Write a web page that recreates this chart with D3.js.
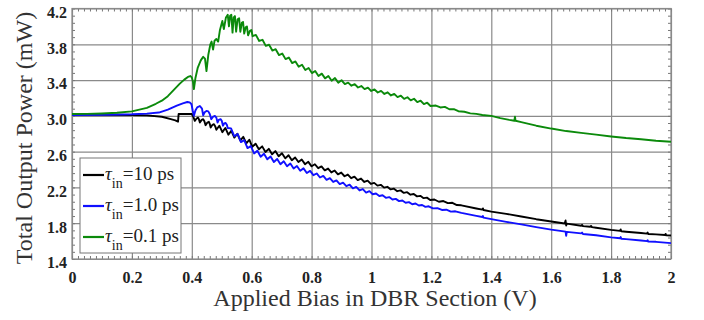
<!DOCTYPE html>
<html>
<head>
<meta charset="utf-8">
<script src="https://cdn.jsdelivr.net/npm/d3@7/dist/d3.min.js"></script>
<style>
  body { margin: 0; background: #fff; }
  svg text { font-family: "Liberation Serif", "Times New Roman", serif; }
</style>
</head>
<body>
<div id="chart"></div>
<script>
// tick values and labels
const xTicks = [0, 0.2, 0.4, 0.6, 0.8, 1, 1.2, 1.4, 1.6, 1.8, 2];
const xTickLabels = ["0", "0.2", "0.4", "0.6", "0.8", "1", "1.2", "1.4", "1.6", "1.8", "2"];
const yTicks = [1.4, 1.8, 2.2, 2.6, 3.0, 3.4, 3.8, 4.2];
const yTickLabels = ["1.4", "1.8", "2.2", "2.6", "3.0", "3.4", "3.8", "4.2"];

const seriesNames = ["10 ps", "1.0 ps", "0.1 ps"];
const seriesColors = ["#000000", "#1010ff", "#0b8a0b"];

// tau_in = 10 ps (black)
const black = [
  [0,3.012],[0.1,3.012],[0.2,3.01],[0.25,3.005],[0.3,2.99],[0.33,2.963],[0.345,2.95],[0.354,2.935],
  [0.356,3.02],[0.37,3.02],[0.385,3.022],[0.4,3.02],[0.405,2.99],[0.41,2.944],[0.416,2.97],[0.421,2.98],
  [0.424,2.96],[0.427,2.926],[0.433,2.955],[0.438,2.963],[0.442,2.94],[0.446,2.896],[0.452,2.925],
  [0.457,2.933],[0.46,2.91],[0.463,2.87],[0.469,2.9],[0.474,2.907],[0.478,2.885],[0.482,2.844],
  [0.492,2.89],[0.502,2.818],[0.512,2.865],[0.522,2.79],[0.532,2.833],[0.542,2.757],[0.552,2.80],
  [0.562,2.727],[0.572,2.765],[0.582,2.692],[0.592,2.733],[0.602,2.654],[0.613,2.689],[0.624,2.626],
  [0.635,2.659],[0.646,2.596],[0.657,2.631],[0.668,2.571],[0.679,2.606],[0.69,2.548],[0.701,2.582],
  [0.712,2.525],[0.723,2.56],[0.734,2.503],[0.745,2.535],[0.756,2.484],[0.767,2.512],[0.778,2.46],
  [0.789,2.486],[0.8,2.436],[0.811,2.459],[0.822,2.415],[0.833,2.435],[0.844,2.391],[0.855,2.411],
  [0.866,2.368],[0.877,2.389],[0.888,2.346],[0.899,2.366],[0.91,2.325],[0.921,2.344],[0.932,2.303],
  [0.943,2.321],[0.954,2.282],[0.965,2.299],[0.976,2.261],[0.987,2.276],[0.998,2.239],[1.009,2.251],
  [1.02,2.22],[1.031,2.229],[1.042,2.198],[1.053,2.207],[1.064,2.178],[1.075,2.186],[1.086,2.158],
  [1.097,2.167],[1.108,2.139],[1.119,2.147],[1.13,2.119],[1.141,2.127],[1.152,2.10],[1.163,2.106],
  [1.174,2.08],[1.185,2.086],[1.196,2.06],[1.21,2.065],[1.225,2.04],[1.24,2.048],[1.255,2.025],
  [1.27,2.028],[1.285,2.003],[1.3,2.0],[1.35,1.965],[1.37,1.952],[1.372,1.965],[1.374,1.948],
  [1.4,1.93],[1.45,1.905],[1.5,1.875],[1.55,1.845],[1.6,1.819],[1.645,1.797],[1.648,1.83],
  [1.65,1.775],[1.652,1.795],[1.7,1.772],[1.703,1.782],[1.706,1.768],[1.73,1.76],[1.733,1.77],
  [1.736,1.756],[1.75,1.75],[1.8,1.726],[1.83,1.714],[1.832,1.73],[1.834,1.71],[1.85,1.705],
  [1.9,1.69],[1.92,1.684],[1.922,1.695],[1.924,1.68],[1.95,1.675],[1.98,1.668],[1.982,1.68],
  [1.984,1.664],[2.0,1.662]
];

// tau_in = 1.0 ps (blue)
const blue = [
  [0,3.01],[0.1,3.012],[0.2,3.018],[0.25,3.025],[0.29,3.037],[0.32,3.07],[0.35,3.115],[0.37,3.14],
  [0.385,3.155],[0.393,3.15],[0.399,3.13],[0.403,3.06],[0.407,3.0],[0.412,3.06],[0.418,3.095],
  [0.427,3.11],[0.434,3.08],[0.438,3.007],[0.443,3.04],[0.449,3.055],[0.455,3.05],[0.46,3.02],
  [0.465,2.963],[0.471,2.99],[0.477,3.0],[0.482,2.98],[0.486,2.926],[0.49,2.955],[0.496,2.963],
  [0.5,2.945],[0.504,2.89],[0.508,2.915],[0.513,2.92],[0.517,2.9],[0.52,2.865],
  [0.531,2.86],[0.542,2.772],[0.553,2.798],[0.564,2.707],[0.575,2.728],[0.586,2.64],[0.597,2.662],
  [0.608,2.58],[0.619,2.61],[0.63,2.543],[0.641,2.577],[0.652,2.514],[0.663,2.546],[0.674,2.485],
  [0.685,2.518],[0.696,2.46],[0.707,2.492],[0.718,2.436],[0.729,2.467],[0.74,2.412],[0.751,2.439],
  [0.762,2.386],[0.773,2.413],[0.784,2.361],[0.795,2.385],[0.806,2.337],[0.817,2.356],[0.828,2.311],
  [0.839,2.329],[0.85,2.285],[0.861,2.303],[0.872,2.261],[0.883,2.279],[0.894,2.237],[0.905,2.254],
  [0.916,2.214],[0.927,2.23],[0.938,2.19],[0.949,2.206],[0.96,2.166],[0.971,2.182],[0.982,2.143],
  [0.993,2.159],[1.004,2.124],[1.015,2.132],[1.026,2.104],[1.037,2.112],[1.048,2.084],[1.059,2.092],
  [1.07,2.065],[1.081,2.072],[1.092,2.047],[1.103,2.054],[1.114,2.029],[1.125,2.036],[1.136,2.012],
  [1.147,2.02],[1.158,1.998],[1.169,2.004],[1.18,1.983],[1.191,1.989],[1.205,1.966],[1.22,1.969],
  [1.235,1.948],[1.25,1.951],[1.265,1.93],[1.28,1.933],[1.3,1.915],[1.35,1.882],[1.37,1.87],
  [1.372,1.88],[1.374,1.862],[1.4,1.845],[1.45,1.815],[1.5,1.787],[1.55,1.757],[1.6,1.728],
  [1.648,1.706],[1.65,1.66],[1.652,1.703],[1.7,1.686],[1.703,1.695],[1.706,1.68],[1.75,1.666],
  [1.8,1.642],[1.83,1.632],[1.832,1.645],[1.834,1.626],[1.85,1.622],[1.9,1.606],[1.92,1.60],
  [1.922,1.61],[1.924,1.595],[1.95,1.592],[2.0,1.577]
];

// tau_in = 0.1 ps (green)
const green = [
  [0,3.02],[0.05,3.022],[0.1,3.027],[0.15,3.035],[0.2,3.05],[0.25,3.09],[0.28,3.135],[0.3,3.17],
  [0.32,3.22],[0.34,3.29],[0.36,3.36],[0.375,3.405],[0.387,3.435],[0.395,3.445],[0.4,3.43],
  [0.404,3.38],[0.407,3.30],[0.412,3.42],[0.42,3.54],[0.43,3.62],[0.438,3.66],[0.444,3.64],
  [0.449,3.50],[0.455,3.68],[0.462,3.80],[0.466,3.83],[0.471,3.74],[0.476,3.84],[0.482,3.86],
  [0.488,3.83],[0.494,3.96],[0.502,4.06],[0.507,3.97],[0.514,4.10],[0.52,4.13],[0.524,4.0],
  [0.528,4.12],[0.532,4.13],[0.536,3.93],[0.54,4.10],[0.544,4.115],[0.548,3.94],[0.553,4.08],
  [0.558,4.09],[0.562,3.94],[0.567,4.04],[0.571,4.05],[0.575,3.92],[0.58,3.99],[0.584,4.0],
  [0.588,3.90],[0.594,3.95],[0.599,3.96],[0.603,3.89],
  [0.614,3.905],[0.625,3.837],[0.636,3.85],[0.647,3.782],[0.658,3.795],[0.669,3.73],[0.68,3.745],
  [0.691,3.68],[0.702,3.696],[0.713,3.634],[0.724,3.652],[0.735,3.59],[0.746,3.608],[0.757,3.55],
  [0.768,3.571],[0.779,3.512],[0.79,3.535],[0.801,3.478],[0.812,3.502],[0.823,3.446],[0.834,3.472],
  [0.845,3.419],[0.856,3.445],[0.867,3.393],[0.878,3.422],[0.889,3.371],[0.9,3.398],[0.911,3.356],
  [0.922,3.371],[0.933,3.337],[0.944,3.354],[0.955,3.317],[0.966,3.333],[0.977,3.299],[0.988,3.315],
  [0.999,3.278],[1.01,3.295],[1.021,3.261],[1.032,3.279],[1.043,3.245],[1.054,3.263],[1.065,3.228],
  [1.076,3.246],[1.087,3.21],[1.098,3.225],[1.109,3.19],[1.12,3.208],[1.131,3.173],[1.142,3.191],
  [1.153,3.154],[1.164,3.169],[1.175,3.132],[1.186,3.147],[1.197,3.11],[1.215,3.115],[1.23,3.094],
  [1.245,3.10],[1.26,3.074],[1.275,3.075],[1.29,3.052],[1.31,3.046],[1.33,3.028],[1.35,3.022],
  [1.37,3.01],[1.4,3.0],[1.43,2.975],[1.46,2.955],[1.477,2.945],[1.479,2.99],[1.481,2.945],
  [1.5,2.93],[1.55,2.89],[1.6,2.858],[1.65,2.83],[1.7,2.81],[1.75,2.79],[1.8,2.77],[1.85,2.752],
  [1.9,2.738],[1.95,2.722],[2.0,2.71]
];

const seriesData = [black, blue, green];

// layout
const W = 704, H = 320;
const margin = {top: 8.5, right: 33, bottom: 61, left: 72};
const width = W - margin.left - margin.right,
      height = H - margin.top - margin.bottom;

const svg = d3.select("#chart").append("svg")
  .attr("width", W).attr("height", H);
const g = svg.append("g")
  .attr("transform", "translate(" + margin.left + "," + margin.top + ")");

const x = d3.scaleLinear().domain([0, 2]).range([0, width]);
const y = d3.scaleLinear().domain([1.4, 4.2]).range([height, 0]);

// grid lines
g.append("g")
  .attr("transform", "translate(0," + height + ")")
  .call(d3.axisBottom(x).tickValues(xTicks).tickSize(-height).tickFormat(""))
  .call(s => s.select(".domain").remove())
  .selectAll("line").attr("stroke", "#8a8a8a").attr("stroke-width", 1.2);
g.append("g")
  .call(d3.axisLeft(y).tickValues(yTicks).tickSize(-width).tickFormat(""))
  .call(s => s.select(".domain").remove())
  .selectAll("line").attr("stroke", "#8a8a8a").attr("stroke-width", 1.2);

// minor ticks, pointing inward on all four sides
const xMinor = d3.range(0, 2.0001, 0.02);
const yMinor = d3.range(1.4, 4.2001, 0.08);
function minor(axis, tr) {
  g.append("g").attr("transform", tr)
    .call(axis.tickFormat("").tickSizeOuter(0))
    .call(s => s.select(".domain").remove())
    .selectAll("line").attr("stroke", "#777");
}
minor(d3.axisBottom(x).tickValues(xMinor).tickSize(-3), "translate(0," + height + ")");
minor(d3.axisTop(x).tickValues(xMinor).tickSize(-3), "translate(0,0)");
minor(d3.axisLeft(y).tickValues(yMinor).tickSize(-3), "translate(0,0)");
minor(d3.axisRight(y).tickValues(yMinor).tickSize(-3), "translate(" + width + ",0)");

// frame
g.append("rect")
  .attr("width", width).attr("height", height)
  .attr("fill", "none").attr("stroke", "#8a8a8a").attr("stroke-width", 1.2);

// tick labels
const xAxis = g.append("g")
  .attr("transform", "translate(0," + height + ")")
  .call(d3.axisBottom(x).tickValues(xTicks).tickSize(0)
    .tickFormat((d, i) => xTickLabels[i]));
xAxis.select(".domain").remove();
xAxis.selectAll("text")
  .attr("y", 24).attr("dy", null)
  .attr("font-size", 16).attr("font-weight", "bold").attr("fill", "#222")
  .style("font-family", "'Liberation Serif', serif");

const yAxis = g.append("g")
  .call(d3.axisLeft(y).tickValues(yTicks).tickSize(0).tickPadding(5)
    .tickFormat((d, i) => yTickLabels[i]));
yAxis.select(".domain").remove();
yAxis.selectAll("text")
  .attr("dy", "0.55em")
  .attr("font-size", 16).attr("font-weight", "bold").attr("fill", "#222")
  .style("font-family", "'Liberation Serif', serif");

// curves
g.append("clipPath").attr("id", "clip")
  .append("rect").attr("width", width).attr("height", height);

const line = d3.line()
  .x(d => x(d[0]))
  .y(d => y(d[1]));

g.append("g").attr("clip-path", "url(#clip)")
  .selectAll("path")
  .data(seriesData)
  .join("path")
    .attr("d", line)
    .attr("fill", "none")
    .attr("stroke", (d, i) => seriesColors[i])
    .attr("stroke-width", 1.9)
    .attr("stroke-linejoin", "round");

// axis titles
svg.append("text")
  .attr("x", 375).attr("y", 306)
  .attr("text-anchor", "middle")
  .attr("font-size", 24).attr("fill", "#333")
  .text("Applied Bias in DBR Section (V)");

svg.append("text")
  .attr("transform", "translate(32,138) rotate(-90)")
  .attr("text-anchor", "middle")
  .attr("font-size", 24).attr("fill", "#333")
  .text("Total Output Power (mW)");

// legend
const legend = svg.append("g");
legend.append("rect")
  .attr("x", 80).attr("y", 158).attr("width", 101).attr("height", 95)
  .attr("fill", "#fff").attr("stroke", "#777").attr("stroke-width", 1);

seriesNames.forEach((name, i) => {
  const ly = 175 + i * 31;
  legend.append("line")
    .attr("x1", 83).attr("x2", 104).attr("y1", ly).attr("y2", ly)
    .attr("stroke", seriesColors[i]).attr("stroke-width", 2.2);
  const t = legend.append("text")
    .attr("x", 105).attr("y", ly + 5)
    .attr("font-size", 19).attr("fill", "#222");
  t.append("tspan").attr("font-style", "italic").text("\u03c4");
  t.append("tspan").attr("dy", 8).attr("font-size", 14).text("in");
  t.append("tspan").attr("dy", -8).text("=" + name);
});
</script>
</body>
</html>
